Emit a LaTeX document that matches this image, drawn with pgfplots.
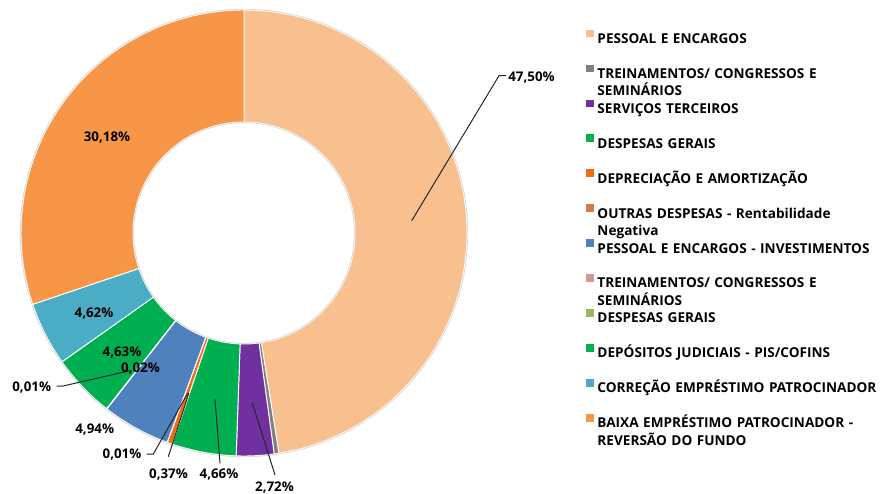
\documentclass[border=0pt]{standalone}
\usepackage{pgfplots}
\pgfplotsset{compat=1.18}
\usepackage{pgfplotstable}
\usepackage{fontspec}
\setmainfont{Open Sans}
\definecolor{c0}{HTML}{F9C08F}
\definecolor{c1}{HTML}{7F7F7F}
\definecolor{c2}{HTML}{7030A0}
\definecolor{c3}{HTML}{00B050}
\definecolor{c4}{HTML}{F26B12}
\definecolor{c5}{HTML}{D27C45}
\definecolor{c6}{HTML}{4F81BD}
\definecolor{c7}{HTML}{D99594}
\definecolor{c8}{HTML}{9BBB59}
\definecolor{c9}{HTML}{00B050}
\definecolor{c10}{HTML}{4BACC6}
\definecolor{c11}{HTML}{F79646}
\pgfplotstableread[col sep=comma]{
id,value
0,47.50
1,0.34
2,2.72
3,4.66
4,0.37
5,0.01
6,4.94
7,0.01
8,0.02
9,4.63
10,4.62
11,30.18
}\slices
\begin{document}
\begin{tikzpicture}
\begin{axis}[
  x=0.75pt, y=0.75pt,
  xmin=0, xmax=887, ymin=0, ymax=493,
  hide axis, clip=false,
  legend style={at={(axis cs:586,463.6)}, anchor=north west, draw=none, fill=none,
    inner sep=0pt, row sep=15.9pt, column sep=3pt,
    font=\bfseries\fontsize{10.2}{13}\selectfont,
    nodes={inner sep=0pt, text height=8pt, text depth=0pt, text width=214pt, align=left}},
  legend cell align=left,
  legend image code/.code={\fill[#1] (0pt,1.1pt) rectangle (5pt,6.1pt);},
]
\pgfplotstablegetrowsof{\slices}
\pgfmathtruncatemacro\nrows{\pgfplotsretval-1}
\def\cum{0}
\pgfplotsforeachungrouped \i in {0,...,\nrows}{%
  \pgfplotstablegetelem{\i}{value}\of\slices
  \let\v\pgfplotsretval
  \pgfmathsetmacro\a{90-3.6*\cum}%
  \pgfmathsetmacro\b{\a-3.6*\v}%
  \pgfmathsetmacro\xo{244+223*cos(\a)}%
  \pgfmathsetmacro\yo{260+223*sin(\a)}%
  \pgfmathsetmacro\xi{244+111*cos(\b)}%
  \pgfmathsetmacro\yi{260+111*sin(\b)}%
  \edef\temp{\noexpand\fill[c\i, draw=white, line width=0.7pt]
    (axis cs:\xo,\yo) arc[start angle=\a, end angle=\b, radius=167.25pt]
    -- (axis cs:\xi,\yi) arc[start angle=\b, end angle=\a, radius=83.25pt] -- cycle;}%
  \temp
  \pgfmathsetmacro\cum{\cum+\v}%
}
\draw[black!15, line width=0.6pt] (axis cs:244,260) circle[radius=167.8pt];
\draw[black!15, line width=0.6pt] (axis cs:244,260) circle[radius=82.8pt];

\addlegendimage{c0}\addlegendentry{PESSOAL E ENCARGOS}
\addlegendimage{c1}\addlegendentry{TREINAMENTOS/ CONGRESSOS E\\SEMINÁRIOS}
\addlegendimage{c2}\addlegendentry{SERVIÇOS TERCEIROS}
\addlegendimage{c3}\addlegendentry{DESPESAS GERAIS}
\addlegendimage{c4}\addlegendentry{DEPRECIAÇÃO E AMORTIZAÇÃO}
\addlegendimage{c5}\addlegendentry{OUTRAS DESPESAS - Rentabilidade\\Negativa}
\addlegendimage{c6}\addlegendentry{PESSOAL E ENCARGOS - INVESTIMENTOS}
\addlegendimage{c7}\addlegendentry{TREINAMENTOS/ CONGRESSOS E\\SEMINÁRIOS}
\addlegendimage{c8}\addlegendentry{DESPESAS GERAIS}
\addlegendimage{c9}\addlegendentry{DEPÓSITOS JUDICIAIS - PIS/COFINS}
\addlegendimage{c10}\addlegendentry{CORREÇÃO EMPRÉSTIMO PATROCINADOR}
\addlegendimage{c11}\addlegendentry{BAIXA EMPRÉSTIMO PATROCINADOR -\\REVERSÃO DO FUNDO}

\begin{scope}[font=\bfseries\fontsize{10}{12}\selectfont]
\draw[black!85, line width=0.75pt] (axis cs:411.7,272.3) -- (axis cs:499,417.3) -- (axis cs:506,417.3);
\draw[black!85, line width=0.75pt] (axis cs:56.7,107) -- (axis cs:63,107) -- (axis cs:130,122.3);
\draw[black!85, line width=0.75pt] (axis cs:146.7,39) -- (axis cs:153.3,39) -- (axis cs:187.7,99.7);
\draw[black!85, line width=0.75pt] (axis cs:168.3,36.3) -- (axis cs:189,100.3);
\draw[black!85, line width=0.75pt] (axis cs:215,93.7) -- (axis cs:220,29.7);
\draw[black!85, line width=0.75pt] (axis cs:252.3,90.3) -- (axis cs:275,18);
\node[anchor=base] at (axis cs:531.5,411.6) {47,50\%};
\node[anchor=base] at (axis cs:107,351.6) {30,18\%};
\node[anchor=base] at (axis cs:94,175.6) {4,62\%};
\node[anchor=base] at (axis cs:122,136.6) {4,63\%};
\node[anchor=base] at (axis cs:140.5,120.3) {0,02\%};
\node[anchor=base] at (axis cs:31.7,101.6) {0,01\%};
\node[anchor=base] at (axis cs:94.7,60) {4,94\%};
\node[anchor=base] at (axis cs:122,34.3) {0,01\%};
\node[anchor=base] at (axis cs:168.5,14.3) {0,37\%};
\node[anchor=base] at (axis cs:219,14.3) {4,66\%};
\node[anchor=base] at (axis cs:274.5,1.6) {2,72\%};
\end{scope}
\end{axis}
\pgfresetboundingbox
\path[use as bounding box] (0,0) rectangle (665.25pt,369.75pt);
\end{tikzpicture}
\end{document}
